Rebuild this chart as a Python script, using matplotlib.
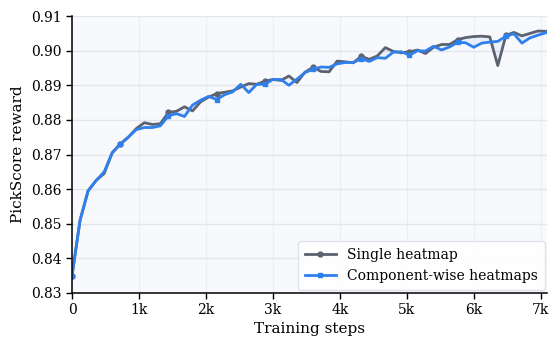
import numpy as np
import matplotlib
matplotlib.use("Agg")
import matplotlib.pyplot as plt
from matplotlib.ticker import FuncFormatter

# training steps (logged every 120 steps)
steps = np.arange(0, 7200, 120)

single_heatmap = [
    0.835, 0.851, 0.8595, 0.8625, 0.8645, 0.8705, 0.873, 0.875, 0.8775, 0.8792,
    0.8787, 0.8789, 0.8822, 0.8825, 0.8838, 0.8826, 0.8852, 0.8866, 0.8876, 0.888,
    0.8884, 0.8895, 0.8905, 0.8903, 0.8912, 0.8917, 0.8914, 0.8927, 0.8908, 0.8938,
    0.8952, 0.894, 0.8939, 0.897, 0.8968, 0.8965, 0.8984, 0.8975, 0.8985, 0.9009,
    0.8998, 0.8994, 0.8997, 0.9002, 0.8992, 0.901, 0.9018, 0.9018, 0.9032, 0.9038,
    0.9041, 0.9042, 0.904, 0.8957, 0.9044, 0.9053, 0.9043, 0.905, 0.9057, 0.9056,
]

componentwise = [
    0.835, 0.851, 0.8595, 0.8625, 0.865, 0.8705, 0.873, 0.875, 0.8772, 0.8778,
    0.8778, 0.8783, 0.8812, 0.8818, 0.881, 0.8843, 0.8857, 0.8868, 0.8859, 0.8873,
    0.8881, 0.8903, 0.8879, 0.8903, 0.8903, 0.8917, 0.8917, 0.89, 0.8918, 0.8937,
    0.8946, 0.8953, 0.8952, 0.8962, 0.8966, 0.8966, 0.8977, 0.8969, 0.898, 0.8978,
    0.8996, 0.8997, 0.8987, 0.9, 0.8999, 0.9013, 0.9002, 0.9011, 0.9024, 0.9023,
    0.901, 0.9022, 0.9025, 0.9027, 0.9042, 0.9049, 0.9022, 0.9037, 0.9045, 0.9052,
]

gray = "#5c636e"
blue = "#2f80ed"

plt.rcParams["font.family"] = "DejaVu Serif"

fig = plt.figure(figsize=(5.54, 3.43), dpi=100)
ax = fig.add_axes([0.13, 0.146, 0.858, 0.807])
ax.set_facecolor("#f8f9fc")

ax.fill_between(steps, single_heatmap, componentwise, color=blue, alpha=0.07, linewidth=0)
ax.plot(steps, single_heatmap, color=gray, lw=2, marker="o", ms=3.5,
        markevery=6, label="Single heatmap")
ax.plot(steps, componentwise, color=blue, lw=2, marker="s", ms=3.5,
        markevery=6, label="Component-wise heatmaps")

ax.set_xlim(0, 7100)
ax.set_ylim(0.83, 0.91)
ax.set_xticks(np.arange(0, 8000, 1000))
ax.set_yticks(np.arange(0.83, 0.9101, 0.01))
ax.xaxis.set_major_formatter(FuncFormatter(lambda v, p: "0" if v == 0 else f"{int(v / 1000)}k"))
ax.yaxis.set_major_formatter(FuncFormatter(lambda v, p: f"{v:.2f}"))
ax.tick_params(labelsize=10, direction="out", length=4, width=1)

ax.grid(axis="y", color="#e2e5ee", lw=1)
ax.grid(axis="x", color="#eceef4", lw=0.8)
ax.set_axisbelow(True)

for s in ["top", "right"]:
    ax.spines[s].set_visible(False)
ax.spines["left"].set_linewidth(1.1)
ax.spines["bottom"].set_linewidth(1.1)

ax.set_xlabel("Training steps", fontsize=11, labelpad=3)
ax.set_ylabel("PickScore reward", fontsize=11, labelpad=4)

leg = ax.legend(loc="lower right", fontsize=10, frameon=True, fancybox=True,
                borderpad=0.5, handlelength=2.2, borderaxespad=0.2)
leg.get_frame().set_edgecolor("#dde0e8")
leg.get_frame().set_facecolor("white")
leg.get_frame().set_alpha(0.9)

fig.savefig("out.png", dpi=100)
